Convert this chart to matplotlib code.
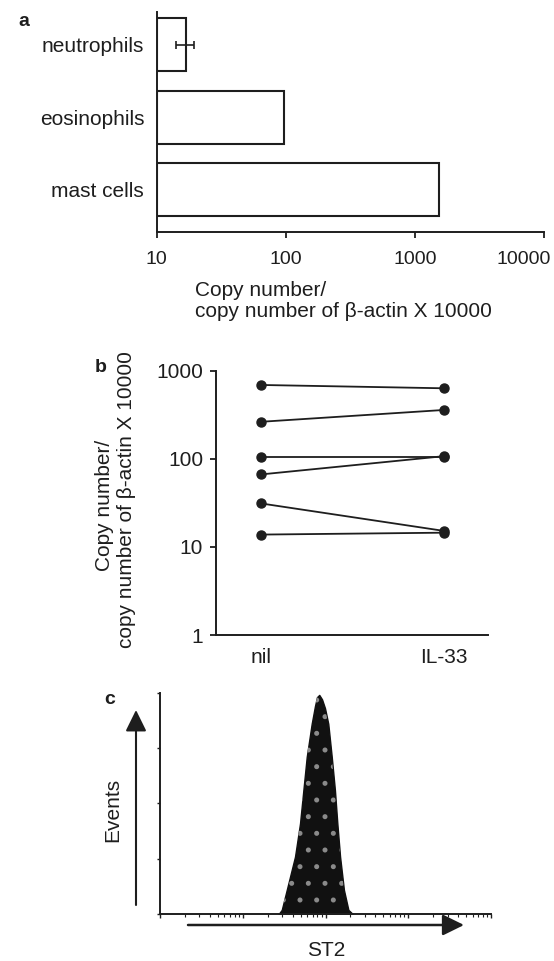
import numpy as np
import matplotlib
matplotlib.use("Agg")
import matplotlib.pyplot as plt
import matplotlib.patches as patches
from matplotlib.transforms import ScaledTranslation

plt.rcParams['font.family'] = ['Liberation Sans', 'DejaVu Sans']
plt.rcParams['hatch.linewidth'] = 1.2

INK = '#1e1e1e'

# panel a: ST2 mRNA per cell type
cell_types = ['neutrophils', 'eosinophils', 'mast cells']
cell_values = [16.8, 97, 1545]
neut_err = 2.8
a_ticks = [10, 100, 1000, 10000]

# panel b: paired nil vs IL-33
b_groups = ['nil', 'IL-33']
nil_values = [688, 263, 105, 66.5, 31.1, 13.8]
il33_values = [631, 358, 105, 107, 15.2, 14.5]
b_ticks = [1, 10, 100, 1000]

# panel c: ST2 histogram (fluorescence, % of max events)
st2_intensity = [27, 29.6, 34, 42.8, 49.2, 54, 59.3, 68.1, 74.6, 78.9, 84,
                 90.8, 98.6, 108, 119, 130, 139, 150, 167, 189, 215]
st2_events = [0, 2, 11, 26, 41, 56, 71, 86, 94, 98, 99,
              97, 93, 86, 71, 56, 41, 26, 11, 2, 0]


def style_spines(ax):
    for s in ['top', 'right']:
        ax.spines[s].set_visible(False)
    for s in ['left', 'bottom']:
        ax.spines[s].set_linewidth(1.4)
        ax.spines[s].set_color(INK)


def panel_a(fig):
    ax = fig.add_axes([0.2829, 0.7586, 0.699, 0.2289])
    ax.set_xscale('log')
    y_pos = np.arange(len(cell_types))
    ax.barh(y_pos, np.array(cell_values) - 10, left=10, height=0.73,
            color='white', edgecolor=INK, linewidth=1.5)
    ax.errorbar(cell_values[0], 0, xerr=neut_err, fmt='none', ecolor=INK,
                elinewidth=1.2, capsize=3, capthick=1.2)
    ax.set_xlim(10, 10000)
    ax.set_ylim(2.583, -0.448)
    ax.set_yticks(y_pos)
    ax.set_yticklabels(cell_types, fontsize=15, color=INK)
    ax.set_xticks(a_ticks)
    ax.set_xticklabels([str(t) for t in a_ticks], fontsize=14, color=INK)
    ax.xaxis.set_minor_locator(matplotlib.ticker.NullLocator())
    ax.tick_params(axis='y', length=0, pad=9)
    ax.tick_params(axis='x', length=4, width=1.3, pad=10, color=INK)
    # last label sits left of its tick so it stays inside the figure
    last = ax.get_xticklabels()[-1]
    last.set_transform(last.get_transform() +
                       ScaledTranslation(-0.2, 0, fig.dpi_scale_trans))
    style_spines(ax)
    ax.set_xlabel('Copy number/\ncopy number of \u03b2-actin X 10000',
                  fontsize=15, color=INK, ha='left', linespacing=1.1)
    ax.xaxis.set_label_coords(0.099, -0.225)
    fig.text(18 / 554, 1 - 22 / 961, 'a', fontsize=14, fontweight='bold',
             color=INK, ha='left', va='center')


def panel_b(fig):
    ax = fig.add_axes([0.3894, 0.3392, 0.4906, 0.2751])
    ax.set_yscale('log')
    for v0, v1 in zip(nil_values, il33_values):
        ax.plot([0, 1], [v0, v1], '-o', color=INK, lw=1.3, ms=6.5)
    ax.set_xlim(-0.25, 1.24)
    ax.set_ylim(1, 1000)
    ax.set_xticks([0, 1])
    ax.set_xticklabels(b_groups, fontsize=15, color=INK)
    ax.set_yticks(b_ticks)
    ax.set_yticklabels([str(t) for t in b_ticks], fontsize=15, color=INK)
    ax.yaxis.set_minor_locator(matplotlib.ticker.NullLocator())
    ax.tick_params(axis='x', length=0, pad=9)
    ax.tick_params(axis='y', length=4, width=1.3, pad=5, color=INK)
    style_spines(ax)
    # the two label lines are separate texts so the panel letter stays clear
    fig.text(104 / 554, 1 - 505 / 961, 'Copy number/', rotation=90,
             fontsize=15, color=INK, ha='center', va='center')
    fig.text(127 / 554, 1 - 500 / 961, 'copy number of \u03b2-actin X 10000',
             rotation=90, fontsize=15, color=INK, ha='center', va='center')
    fig.text(101 / 554, 1 - 367 / 961, 'b', fontsize=14, fontweight='bold',
             color=INK, ha='center', va='center')


def panel_c(fig):
    ax = fig.add_axes([0.2888, 0.0486, 0.5975, 0.2306])
    ax.set_xscale('log')
    ax.fill_between(st2_intensity, st2_events, color='#111111', lw=1.0,
                    edgecolor='#111111')
    ax.fill_between(st2_intensity, st2_events, facecolor='none',
                    edgecolor='#8a8a8a', hatch='.', lw=0)
    ax.set_xlim(1, 10000)
    ax.set_ylim(0, 100)
    ax.set_yticks([0, 25, 50, 75, 100])
    ax.set_yticklabels([])
    ax.xaxis.set_major_formatter(matplotlib.ticker.NullFormatter())
    ax.xaxis.set_minor_formatter(matplotlib.ticker.NullFormatter())
    ax.tick_params(axis='y', length=2.5, width=1.0, color=INK)
    ax.tick_params(axis='x', which='major', length=3, width=1.0, color=INK)
    ax.tick_params(axis='x', which='minor', length=2, width=0.8, color=INK)
    style_spines(ax)

    head = '-|>,head_length=0.65,head_width=0.32'
    up = patches.FancyArrowPatch((136 / 554, 1 - 905 / 961),
                                 (136 / 554, 1 - 710 / 961),
                                 transform=fig.transFigure, arrowstyle=head,
                                 mutation_scale=20, lw=1.5, color=INK,
                                 shrinkA=0, shrinkB=0)
    right = patches.FancyArrowPatch((188 / 554, 1 - 925 / 961),
                                    (464 / 554, 1 - 925 / 961),
                                    transform=fig.transFigure, arrowstyle=head,
                                    mutation_scale=20, lw=1.8, color=INK,
                                    shrinkA=0, shrinkB=0)
    fig.add_artist(up)
    fig.add_artist(right)
    fig.text(113 / 554, 1 - 810 / 961, 'Events', rotation=90, fontsize=15,
             color=INK, ha='center', va='center')
    fig.text(326 / 554, 1 - 951 / 961, 'ST2', fontsize=15, color=INK,
             ha='center', va='center')
    fig.text(110 / 554, 1 - 699 / 961, 'c', fontsize=14, fontweight='bold',
             color=INK, ha='center', va='center')


def main():
    fig = plt.figure(figsize=(5.54, 9.61), dpi=100)
    panel_a(fig)
    panel_b(fig)
    panel_c(fig)
    fig.savefig('out.png', dpi=100, facecolor='white')


if __name__ == "__main__":
    main()
